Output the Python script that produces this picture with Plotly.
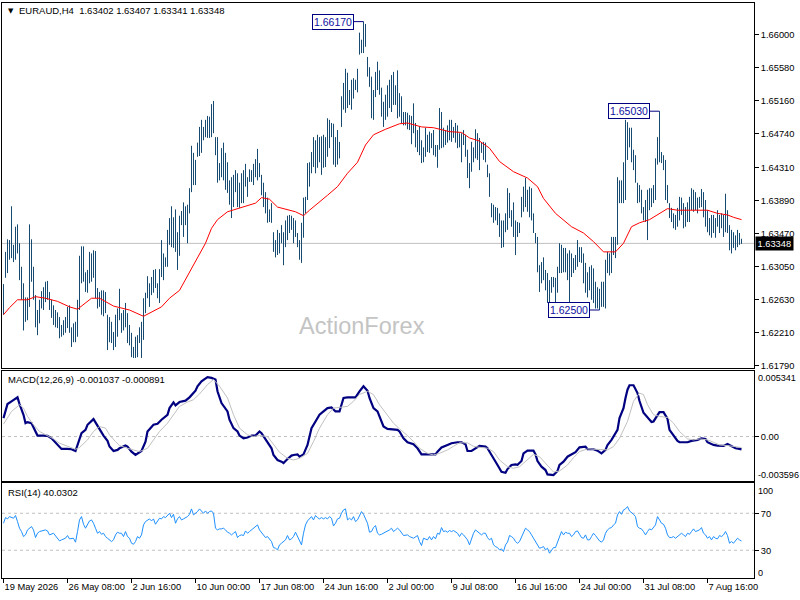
import plotly.graph_objects as go

# ---------------- data ----------------
bar_high = [
1.6283,1.6324,1.6340,1.6339,1.6382,1.6333,1.6356,1.6359,1.6335,1.6305,
1.6284,1.6266,1.6266,1.6359,1.6340,1.6305,1.6269,1.6250,1.6263,1.6274,
1.6279,1.6286,1.6287,1.6273,1.6263,1.6256,1.6250,1.6247,1.6241,1.6231,
1.6237,1.6241,1.6254,1.6256,1.6228,1.6233,1.6235,1.6263,1.6319,1.6331,
1.6331,1.6298,1.6301,1.6324,1.6322,1.6326,1.6325,1.6278,1.6273,1.6275,
1.6275,1.6273,1.6244,1.6241,1.6235,1.6222,1.6244,1.6252,1.6277,1.6246,
1.6250,1.6259,1.6246,1.6231,1.6221,1.6203,1.6216,1.6218,1.6228,1.6235,
1.6265,1.6272,1.6293,1.6284,1.6292,1.6301,1.6302,1.6284,1.6302,1.6339,
1.6322,1.6317,1.6352,1.6367,1.6382,1.6368,1.6378,1.6349,1.6370,1.6376,
1.6387,1.6382,1.6384,1.6405,1.6459,1.6450,1.6441,1.6463,1.6483,1.6492,
1.6483,1.6492,1.6497,1.6496,1.6512,1.6516,1.6470,1.6470,1.6437,1.6456,
1.6463,1.6450,1.6438,1.6415,1.6419,1.6422,1.6428,1.6424,1.6412,1.6424,
1.6428,1.6436,1.6419,1.6429,1.6428,1.6436,1.6442,1.6455,1.6437,1.6422,
1.6412,1.6400,1.6393,1.6378,1.6386,1.6349,1.6339,1.6352,1.6348,1.6358,
1.6349,1.6364,1.6370,1.6371,1.6370,1.6367,1.6364,1.6348,1.6339,1.6361,
1.6393,1.6394,1.6437,1.6438,1.6451,1.6470,1.6466,1.6473,1.6470,1.6471,
1.6473,1.6470,1.6494,1.6492,1.6488,1.6487,1.6470,1.6479,1.6464,1.6522,
1.6539,1.6557,1.6552,1.6530,1.6543,1.6545,1.6543,1.6557,1.6603,1.6594,
1.66170,1.6614,1.6572,1.6559,1.6547,1.6530,1.6553,1.6566,1.6555,1.6533,
1.6515,1.6524,1.6536,1.6543,1.6549,1.6553,1.6536,1.6555,1.6526,1.6522,
1.6502,1.6502,1.6501,1.6498,1.6497,1.6513,1.6488,1.6479,1.6484,1.6466,
1.6457,1.6482,1.6473,1.6477,1.6475,1.6479,1.6460,1.6460,1.6507,1.6502,
1.6482,1.6479,1.6485,1.6492,1.6492,1.6483,1.6488,1.6485,1.6475,1.6475,
1.6479,1.6473,1.6454,1.6437,1.6464,1.6457,1.6480,1.6475,1.6469,1.6463,
1.6464,1.6463,1.6435,1.6424,1.6386,1.6384,1.6381,1.6380,1.6373,1.6364,
1.6364,1.6373,1.6405,1.6399,1.6377,1.6387,1.6364,1.6362,1.6361,1.6394,
1.6407,1.6418,1.6403,1.6407,1.6405,1.6373,1.6348,1.6343,1.6307,1.6311,
1.6317,1.6301,1.6297,1.6288,1.6292,1.6292,1.6291,1.6305,1.6335,1.6333,
1.6329,1.6329,1.6322,1.6326,1.6322,1.6316,1.6320,1.6339,1.6330,1.6330,
1.6322,1.6310,1.6298,1.6305,1.6307,1.6303,1.6286,1.6279,1.6277,1.6286,
1.6286,1.6314,1.6324,1.6322,1.6343,1.6343,1.6343,1.6419,1.6415,1.6415,
1.6438,1.6492,1.6489,1.6482,1.6482,1.6454,1.6447,1.6412,1.6409,1.6403,
1.6381,1.6390,1.6403,1.6405,1.6405,1.6409,1.6443,1.6470,1.65030,1.6451,
1.6447,1.6441,1.6409,1.6386,1.6380,1.6373,1.6371,1.6380,1.6394,1.6393,
1.6386,1.6381,1.6387,1.6394,1.6405,1.6403,1.6400,1.6393,1.6394,1.6404,
1.6400,1.6390,1.6377,1.6367,1.6371,1.6371,1.6367,1.6377,1.6371,1.6373,
1.6371,1.6398,1.6377,1.6358,1.6352,1.6349,1.6345,1.6352,1.6348,1.63407]

bar_low = [
1.6244,1.6291,1.6297,1.6314,1.6316,1.6311,1.6314,1.6322,1.6288,1.6263,
1.6224,1.6235,1.6237,1.6254,1.6286,1.6263,1.6228,1.6218,1.6233,1.6252,
1.6250,1.6260,1.6263,1.6250,1.6240,1.6231,1.6228,1.6227,1.6214,1.6216,
1.6218,1.6221,1.6227,1.6221,1.6203,1.6209,1.6209,1.6216,1.6250,1.6284,
1.6286,1.6273,1.6272,1.6284,1.6286,1.6291,1.6265,1.6252,1.6254,1.6244,
1.6242,1.6246,1.6199,1.6209,1.6208,1.6199,1.6203,1.6216,1.6237,1.6221,
1.6224,1.6228,1.6208,1.6205,1.6190,1.6189,1.6189,1.6190,1.6208,1.6189,
1.6212,1.6246,1.6265,1.6254,1.6269,1.6272,1.6278,1.6265,1.6259,1.6292,
1.6288,1.6305,1.6305,1.6333,1.6330,1.6329,1.6324,1.6301,1.6319,1.6358,
1.6343,1.6358,1.6335,1.6373,1.6400,1.6409,1.6409,1.6445,1.6446,1.6450,
1.6466,1.6470,1.6469,1.6469,1.6470,1.6475,1.6447,1.6412,1.6415,1.6419,
1.6415,1.6403,1.6399,1.6384,1.6367,1.6381,1.6400,1.6381,1.6380,1.6386,
1.6386,1.6407,1.6394,1.6413,1.6413,1.6409,1.6419,1.6415,1.6419,1.6396,
1.6381,1.6373,1.6361,1.6362,1.6361,1.6324,1.6317,1.6320,1.6322,1.6335,
1.6307,1.6330,1.6339,1.6348,1.6352,1.6335,1.6343,1.6330,1.6314,1.6310,
1.6342,1.6373,1.6390,1.6407,1.6424,1.6432,1.6424,1.6431,1.6438,1.6422,
1.6431,1.6432,1.6445,1.6456,1.6470,1.6435,1.6432,1.6435,1.6443,1.6483,
1.6505,1.6501,1.6507,1.6511,1.6505,1.6519,1.6530,1.6527,1.6575,1.6577,
1.6577,1.6585,1.6547,1.6534,1.6494,1.6492,1.6521,1.6530,1.6524,1.6496,
1.6483,1.6492,1.6496,1.6507,1.6502,1.6511,1.6511,1.6494,1.6496,1.6488,
1.6485,1.6485,1.6480,1.6479,1.6461,1.6475,1.6457,1.6451,1.6447,1.6437,
1.6438,1.6445,1.6451,1.6450,1.6456,1.6447,1.6445,1.6431,1.6454,1.6456,
1.6457,1.6460,1.6463,1.6466,1.6464,1.6469,1.6463,1.6456,1.6457,1.6438,
1.6460,1.6445,1.6418,1.6405,1.6426,1.6438,1.6443,1.6441,1.6428,1.6450,
1.6441,1.6438,1.6419,1.6394,1.6368,1.6361,1.6364,1.6358,1.6343,1.6329,
1.6330,1.6349,1.6352,1.6367,1.6356,1.6343,1.6320,1.6343,1.6348,1.6368,
1.6375,1.6381,1.6375,1.6368,1.6364,1.6348,1.6335,1.6298,1.6273,1.6284,
1.6288,1.6275,1.6259,1.6260,1.6272,1.6279,1.6260,1.6272,1.6297,1.6297,
1.6298,1.6298,1.6288,1.6260,1.6292,1.6297,1.6301,1.6305,1.6311,1.6310,
1.6284,1.6272,1.6266,1.6275,1.6263,1.6259,1.6252,1.6252,1.62500,1.6254,
1.6254,1.6252,1.6297,1.6294,1.6297,1.6320,1.6316,1.6333,1.6386,1.6386,
1.6386,1.6390,1.6441,1.6457,1.6438,1.6428,1.6412,1.6386,1.6387,1.6373,
1.6364,1.6362,1.6339,1.6377,1.6381,1.6386,1.6390,1.6435,1.6438,1.6437,
1.6428,1.6390,1.6386,1.6367,1.6362,1.6354,1.6352,1.6356,1.6364,1.6371,
1.6354,1.6356,1.6362,1.6362,1.6377,1.6375,1.6377,1.6373,1.6380,1.6381,
1.6368,1.6356,1.6349,1.6345,1.6342,1.6348,1.6342,1.6356,1.6348,1.6354,
1.6343,1.6349,1.6348,1.6326,1.6322,1.6329,1.6326,1.6330,1.6333,1.63341]

ma_idx = [0,3,7,12,16,21,27,33,37,44,48,55,63,70,79,83,88,94,97,101,
          104,107,112,117,126,129,133,137,146,150,153,162,167,172,177,181,185,191,198,202,
          209,215,223,229,233,238,243,248,255,262,267,270,276,284,290,295,300,306,310,314,
          318,323,328,332,337,347,352,357,362,365,369]
ma_val = [1.6244,1.6253,1.6263,1.6263,1.6267,1.6265,1.6261,1.6254,1.6251,1.6265,
          1.6265,1.6255,1.6250,1.6242,1.6254,1.6265,1.6275,1.6302,1.6317,1.6335,
          1.6354,1.6365,1.6375,1.6379,1.6386,1.6393,1.6391,1.6381,1.6375,1.6370,
          1.6377,1.6396,1.6407,1.6424,1.6438,1.6460,1.6473,1.6480,1.6487,1.6488,
          1.6483,1.6482,1.6477,1.6476,1.6469,1.6465,1.6456,1.6439,1.6426,1.6418,
          1.6407,1.6392,1.6373,1.6356,1.6348,1.6337,1.6324,1.6324,1.6335,1.6356,
          1.6361,1.6365,1.6373,1.6379,1.6377,1.6377,1.6377,1.6373,1.6371,1.6368,1.6365]

macd_idx = [0,1,2,4,7,8,10,11,12,14,16,17,20,22,24,26,27,29,32,34,
            36,37,39,41,42,45,47,48,50,52,53,55,57,58,61,62,64,66,67,69,
            71,72,75,77,79,82,83,85,86,88,91,93,96,97,99,102,104,106,107,109,
            112,113,115,117,118,120,122,124,126,128,129,131,132,134,135,137,139,140,142,144,
            145,147,148,150,152,154,156,158,160,162,164,166,168,170,172,176,178,180,182,183,
            185,187,188,190,192,194,197,198,200,202,205,207,209,211,213,216,217,219,222,224,
            227,229,231,232,234,236,238,241,242,244,246,247,249,251,252,254,256,257,259,260,
            262,265,266,267,269,271,272,275,277,278,280,282,283,286,288,291,292,295,297,299,
            301,302,304,306,307,308,310,311,312,313,315,317,318,320,322,324,325,327,328,330,
            332,333,335,337,338,340,342,344,347,349,351,352,355,357,360,362,364,366,368,369]
macd_val = [
0.00149,0.00217,0.00263,0.00285,0.00317,0.00263,0.00176,0.00108,0.00117,0.00108,
0.00041,0.00008,0.00008,0.00005,-0.00014,-0.00046,-0.00068,-0.00100,-0.00100,-0.00103,
-0.00117,-0.00068,0.00027,0.00054,0.00095,0.00141,0.00089,0.00054,0.00008,-0.00035,
-0.00081,-0.00117,-0.00108,-0.00095,-0.00073,-0.00081,-0.00122,-0.00149,-0.00136,-0.00117,
-0.00041,0.00041,0.00095,0.00103,0.00136,0.00176,0.00230,0.00276,0.00252,0.00279,
0.00290,0.00317,0.00371,0.00407,0.00447,0.00480,0.00474,0.00461,0.00366,0.00271,
0.00203,0.00136,0.00068,0.00041,0.00008,-0.00014,-0.00008,0.00008,0.00008,0.00041,
0.00027,-0.00019,-0.00046,-0.00095,-0.00149,-0.00190,-0.00203,-0.00214,-0.00182,-0.00154,
-0.00149,-0.00144,-0.00163,-0.00144,-0.00068,0.00068,0.00122,0.00176,0.00203,0.00230,
0.00236,0.00203,0.00203,0.00312,0.00317,0.00317,0.00366,0.00407,0.00371,0.00312,
0.00230,0.00203,0.00163,0.00081,0.00062,0.00060,0.00054,0.00041,-0.00014,-0.00046,
-0.00062,-0.00095,-0.00144,-0.00144,-0.00144,-0.00144,-0.00122,-0.00089,-0.00068,-0.00054,
-0.00046,-0.00046,-0.00062,-0.00117,-0.00117,-0.00095,-0.00076,-0.00081,-0.00095,-0.00149,
-0.00209,-0.00230,-0.00285,-0.00293,-0.00263,-0.00230,-0.00225,-0.00228,-0.00198,-0.00136,
-0.00114,-0.00114,-0.00144,-0.00198,-0.00244,-0.00271,-0.00306,-0.00312,-0.00279,-0.00230,
-0.00203,-0.00163,-0.00154,-0.00127,-0.00087,-0.00081,-0.00103,-0.00103,-0.00114,-0.00136,
-0.00108,-0.00068,-0.00027,0.00027,0.00054,0.00149,0.00230,0.00312,0.00379,0.00415,
0.00415,0.00352,0.00287,0.00192,0.00154,0.00117,0.00122,0.00176,0.00198,0.00198,
0.00144,0.00054,0.00008,-0.00035,-0.00046,-0.00049,-0.00046,-0.00035,-0.00027,-0.00014,
-0.00019,-0.00046,-0.00068,-0.00073,-0.00076,-0.00060,-0.00081,-0.00095,-0.00100,-0.001037]

sig_idx = [0,2,4,8,10,12,15,18,22,25,28,32,36,38,42,45,48,51,53,56,
           58,62,65,68,72,75,78,82,85,88,92,95,98,102,105,108,112,115,118,122,
           125,128,132,135,138,142,145,148,152,155,158,162,165,168,172,175,178,182,185,188,
           192,195,198,202,205,208,212,215,218,222,225,228,232,235,238,242,245,248,252,255,
           258,262,265,268,272,275,278,282,285,288,292,295,298,302,305,308,312,315,318,320,
           322,325,328,332,335,338,342,345,348,352,355,358,362,365,369]
sig_val = [
0.00100,0.00149,0.00203,0.00257,0.00230,0.00163,0.00095,0.00041,0.00008,-0.00019,
-0.00054,-0.00081,-0.00103,-0.00089,-0.00027,0.00041,0.00081,0.00068,0.00014,-0.00041,
-0.00073,-0.00095,-0.00108,-0.00122,-0.00095,-0.00027,0.00041,0.00108,0.00176,0.00244,
0.00279,0.00298,0.00344,0.00420,0.00461,0.00407,0.00312,0.00176,0.00068,0.00014,
0.0,0.00008,0.0,-0.00068,-0.00127,-0.00176,-0.00190,-0.00176,-0.00136,-0.00041,
0.00068,0.00176,0.00230,0.00236,0.00244,0.00285,0.00341,0.00366,0.00339,0.00257,
0.00176,0.00108,0.00062,0.00008,-0.00041,-0.00095,-0.00136,-0.00149,-0.00136,-0.00108,
-0.00079,-0.00051,-0.00051,-0.00079,-0.00087,-0.00095,-0.00122,-0.00190,-0.00244,-0.00257,
-0.00244,-0.00190,-0.00144,-0.00163,-0.00230,-0.00287,-0.00279,-0.00230,-0.00171,-0.00122,
-0.00100,-0.00103,-0.00108,-0.00108,-0.00081,-0.00014,0.00122,0.00285,0.00352,0.00339,
0.00257,0.00176,0.00163,0.00154,0.00108,0.00041,-0.00019,-0.00027,-0.00019,-0.00027,
-0.00046,-0.00068,-0.00073,-0.00081,-0.000891]

# RSI per bar (None = not read)
rsi_val = [
59.2,65.3,63.9,66.4,None,64.6,67.5,61.0,53.8,50.2,
44.8,46.6,52.0,None,55.6,52.0,43.7,48.4,50.2,50.9,
None,52.0,50.9,46.6,None,48.4,45.9,43.7,40.1,41.2,
None,43.0,45.9,42.3,None,43.0,38.7,50.2,62.8,66.4,
58.1,53.8,57.4,61.7,62.8,59.2,53.8,48.4,50.2,47.3,
48.4,44.8,43.0,41.2,39.4,41.2,46.6,49.5,48.4,48.4,
44.8,50.2,44.8,43.0,37.6,36.5,39.4,44.8,43.0,46.6,
57.4,61.0,62.8,63.9,61.7,63.9,58.1,61.0,64.6,63.9,
66.4,65.3,68.2,70.0,65.3,68.9,59.2,63.9,66.4,62.8,
63.9,65.3,66.4,68.9,74.7,68.2,70.0,71.8,74.7,72.5,
70.0,72.5,70.0,71.8,72.5,70.0,53.8,52.0,53.1,53.1,
53.8,52.0,49.5,48.4,46.6,48.4,50.2,43.7,45.9,46.6,
45.9,50.9,48.4,50.2,52.0,53.8,55.6,57.4,52.0,49.5,
46.6,43.7,44.8,42.3,39.4,32.9,32.2,30.4,35.8,37.6,
39.4,41.2,45.9,41.2,42.3,44.8,49.5,44.8,39.4,35.8,
48.4,57.4,61.7,63.9,66.4,62.8,67.5,65.3,63.9,65.3,
63.9,65.3,63.9,66.4,64.6,56.3,59.2,63.9,64.6,70.0,
73.6,74.7,62.8,64.6,62.8,66.4,61.0,62.8,68.2,71.8,
68.9,63.9,59.2,49.5,50.2,54.5,56.7,48.4,46.6,47.3,
48.4,50.2,50.9,52.0,53.8,50.2,52.0,53.8,52.0,None,
45.9,None,46.6,44.8,None,43.0,None,45.9,39.4,35.1,
43.0,None,41.2,44.8,41.2,44.8,42.3,48.4,47.3,54.5,
50.2,50.9,49.5,51.3,50.2,51.3,49.5,48.4,44.8,48.4,
46.6,43.7,41.2,35.8,43.0,48.4,52.0,50.2,48.4,46.6,
48.4,48.4,43.7,41.2,43.0,35.8,34.0,32.9,30.4,31.5,
28.6,35.8,38.7,45.9,44.8,43.0,39.4,37.6,39.4,43.7,
48.4,53.8,52.0,50.2,46.6,43.0,40.1,35.8,32.2,32.9,
34.0,30.4,32.2,26.8,30.4,32.9,32.9,39.4,45.9,50.2,
46.6,49.5,48.4,48.4,44.8,46.6,50.2,50.9,47.3,43.7,
43.0,46.6,41.2,41.2,44.8,48.4,45.9,43.0,40.1,38.7,
41.2,48.4,52.0,53.8,54.5,57.4,59.2,68.2,71.8,68.9,
73.6,74.7,77.2,72.5,71.1,68.9,66.4,55.6,53.8,53.1,
50.2,46.6,50.2,53.1,52.0,54.5,57.4,66.4,62.8,59.2,
58.1,53.8,46.6,43.7,43.7,44.8,43.0,44.8,46.6,48.4,
46.6,44.8,48.4,47.3,50.2,53.1,50.2,50.9,52.0,54.5,
48.4,46.6,43.0,44.8,41.2,44.8,43.0,42.3,45.9,44.8,
46.6,50.2,45.9,37.6,39.4,37.6,40.1,43.0,41.2,40.03]

date_tick_idx = [0, 32, 64, 96, 128, 160, 192, 224, 256, 288, 320, 352]
date_tick_text = ["19 May 2026", "26 May 08:00", "2 Jun 16:00", "10 Jun 00:00",
                  "17 Jun 08:00", "24 Jun 16:00", "2 Jul 00:00", "9 Jul 08:00",
                  "16 Jul 16:00", "24 Jul 00:00", "31 Jul 08:00", "7 Aug 16:00"]
price_ticks = [1.66000, 1.65580, 1.65160, 1.64740, 1.64310, 1.63890,
               1.63470, 1.63050, 1.62630, 1.62210, 1.61790]
last_price = 1.63348
swing_idx = [180, 328, 298]
swing_price = [1.66170, 1.65030, 1.62500]
title_text = "EURAUD,H4\u00a0\u00a01.63402 1.63407 1.63341 1.63348"
macd_title = "MACD(12,26,9) -0.001037 -0.000891"
rsi_title = "RSI(14) 40.0302"
macd_range = [-0.003596, 0.005341]

# ---------------- styling ----------------
FONT = "Liberation Sans, Arial, sans-serif"
BAR = "#164a70"
W, H = 800, 600
ML, MR, MT, MB = 2, 46, 3, 22

def px_x(px):
    return (px - ML) / (W - ML - MR)

def px_y(py):
    return (H - MB - py) / (H - MT - MB)

bx, by = [], []
for i, (h, l) in enumerate(zip(bar_high, bar_low)):
    bx += [i, i, None]
    by += [l, h, None]

fig = go.Figure()
fig.add_trace(go.Scatter(x=bx, y=by, mode="lines", line=dict(color=BAR, width=1),
                         xaxis="x", yaxis="y", hoverinfo="skip", showlegend=False))
fig.add_trace(go.Scatter(x=ma_idx, y=ma_val, mode="lines", line=dict(color="#ff0000", width=1),
                         xaxis="x", yaxis="y", hoverinfo="skip", showlegend=False))
fig.add_trace(go.Scatter(x=macd_idx, y=macd_val, mode="lines", line=dict(color="#000080", width=2.2),
                         xaxis="x2", yaxis="y2", hoverinfo="skip", showlegend=False))
fig.add_trace(go.Scatter(x=sig_idx, y=sig_val, mode="lines", line=dict(color="#c0c0c0", width=1),
                         xaxis="x2", yaxis="y2", hoverinfo="skip", showlegend=False))
fig.add_trace(go.Scatter(x=list(range(len(rsi_val))), y=rsi_val, mode="lines", connectgaps=True,
                         line=dict(color="#1e90ff", width=1),
                         xaxis="x3", yaxis="y3", hoverinfo="skip", showlegend=False))

xr = [-0.75, 375.25]
axis_common = dict(showline=True, mirror=True, linecolor="black", linewidth=1,
                   showgrid=False, zeroline=False, fixedrange=True, automargin=False)
tickfont = dict(family=FONT, size=9.3, color="black")

fig.update_layout(
    width=W, height=H,
    margin=dict(l=ML, r=MR, t=MT, b=MB, autoexpand=False),
    paper_bgcolor="white", plot_bgcolor="white",
    showlegend=False,
    xaxis=dict(range=xr, anchor="y", showticklabels=False, ticks="", **axis_common),
    xaxis2=dict(range=xr, anchor="y2", matches="x", showticklabels=False, ticks="", **axis_common),
    xaxis3=dict(range=xr, anchor="y3", matches="x", tickmode="array",
                tickvals=date_tick_idx, ticktext=date_tick_text, ticks="outside",
                ticklen=4, tickcolor="black", ticklabelposition="outside right",
                tickangle=0, tickfont=tickfont, **axis_common),
    yaxis=dict(domain=[px_y(368), 1], range=[1.61762, 1.66407], anchor="x", side="right",
               tickmode="array", tickvals=price_ticks, ticktext=["%.5f" % v for v in price_ticks],
               ticks="outside", ticklen=4, tickcolor="black", tickfont=tickfont, **axis_common),
    yaxis2=dict(domain=[px_y(481), px_y(370.5)], range=macd_range, anchor="x2", side="right",
                tickmode="array", tickvals=[0], ticktext=["0.00"],
                ticks="outside", ticklen=4, tickcolor="black", tickfont=tickfont, **axis_common),
    yaxis3=dict(domain=[0, px_y(483)], range=[0, 102.7], anchor="x3", side="right",
                tickmode="array", tickvals=[70, 30], ticktext=["70", "30"],
                ticks="outside", ticklen=4, tickcolor="black", tickfont=tickfont, **axis_common),
)

# current price line and indicator levels
fig.add_shape(type="line", xref="x domain", yref="y", x0=0, x1=1, y0=last_price, y1=last_price,
              line=dict(color="#c0c0c0", width=1), layer="below")
fig.add_shape(type="line", xref="x2 domain", yref="y2", x0=0, x1=1, y0=0, y1=0,
              line=dict(color="#c0c0c0", width=1, dash="3px,3px"), layer="below")
for lv in (70, 30):
    fig.add_shape(type="line", xref="x3 domain", yref="y3", x0=0, x1=1, y0=lv, y1=lv,
                  line=dict(color="#c0c0c0", width=1, dash="3px,3px"), layer="below")

# texts
fig.add_annotation(xref="paper", yref="paper", x=px_x(297), y=px_y(326), text="ActionForex",
                   showarrow=False, xanchor="left", yanchor="middle",
                   font=dict(family=FONT, size=23.5, color="#c4c4c4"))
fig.add_annotation(xref="paper", yref="paper", x=px_x(6), y=px_y(10.5), text="\u25bc",
                   showarrow=False, xanchor="left", yanchor="middle",
                   font=dict(family="DejaVu Sans", size=7, color="black"))
fig.add_annotation(xref="paper", yref="paper", x=px_x(17), y=px_y(10.5), text=title_text,
                   showarrow=False, xanchor="left", yanchor="middle",
                   font=dict(family=FONT, size=9.5, color="black"))
fig.add_annotation(xref="paper", yref="paper", x=px_x(6), y=px_y(380), text=macd_title,
                   showarrow=False, xanchor="left", yanchor="middle",
                   font=dict(family=FONT, size=9.5, color="black"))
fig.add_annotation(xref="paper", yref="paper", x=px_x(6), y=px_y(492), text=rsi_title,
                   showarrow=False, xanchor="left", yanchor="middle",
                   font=dict(family=FONT, size=9.5, color="black"))

# indicator window extreme labels
for txt, py in (("0.005341", 377.5), ("-0.003596", 474.5), ("100", 491), ("0", 572.5)):
    fig.add_annotation(xref="paper", yref="paper", x=1, y=px_y(py), text=txt, xshift=2,
                       showarrow=False, xanchor="left", yanchor="middle",
                       font=dict(family=FONT, size=9.1, color="black"))

# last price box
fig.add_annotation(xref="paper", yref="y", x=1, y=last_price, text="1.63348", xshift=1,
                   showarrow=False, xanchor="left", yanchor="middle", bgcolor="black",
                   borderpad=1.5, font=dict(family=FONT, size=9.3, color="white"))

# swing high / low labels
for k, p in zip(swing_idx, swing_price):
    fig.add_annotation(xref="x", yref="y", x=k, y=p, text="%.5f" % p,
                       showarrow=True, arrowhead=0, arrowwidth=1, arrowcolor="#000080",
                       ax=-31, ay=0, standoff=0, bgcolor="white", bordercolor="#000080",
                       borderwidth=1, borderpad=1,
                       font=dict(family=FONT, size=10.5, color="#1010a0"))

fig.write_html("out.html", config={"displayModeBar": False, "staticPlot": True},
               post_script="document.body.style.margin='0px';document.body.style.padding='0px';")
